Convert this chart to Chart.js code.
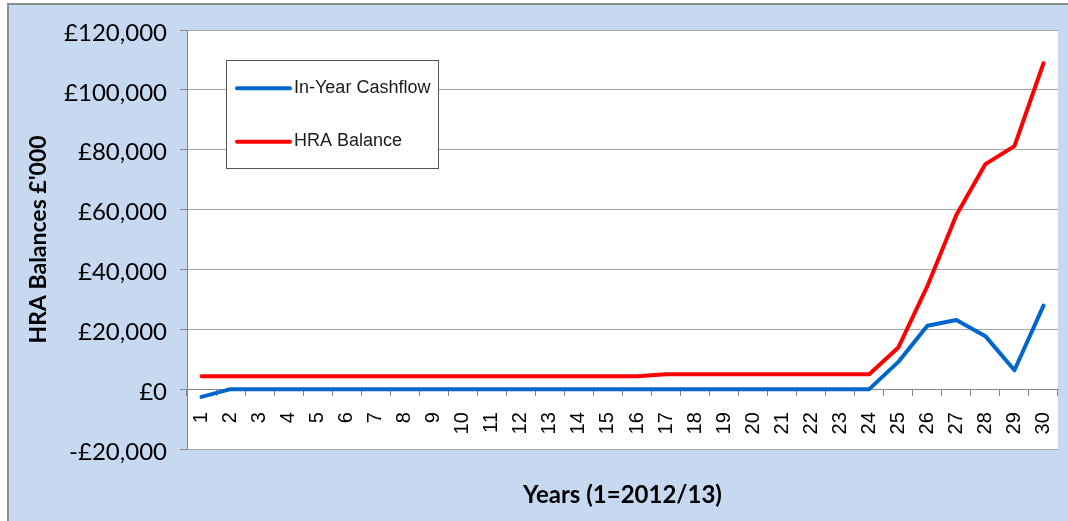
<!DOCTYPE html>
<html><head><meta charset="utf-8">
<script src="https://cdn.jsdelivr.net/npm/chart.js@4.4.0/dist/chart.umd.min.js"></script>
<style>
html,body{margin:0;padding:0;background:#fff;width:1068px;height:521px;overflow:hidden}
#frame{position:absolute;left:7px;top:3px;width:1061px;height:518px;border-top:2px solid #8c8c8c;border-left:2px solid #8c8c8c;background:#C6D9F1;box-sizing:border-box}
#c{position:absolute;left:0;top:0}
</style></head><body>
<div id="frame"></div>
<canvas id="c" width="1068" height="521"></canvas>
<script>
const years = ['1','2','3','4','5','6','7','8','9','10','11','12','13','14','15','16','17','18','19','20','21','22','23','24','25','26','27','28','29','30'];
const inYearCashflow = [-2600, 0, 0, 0, 0, 0, 0, 0, 0, 0, 0, 0, 0, 0, 0, 0, 0, 0, 0, 0, 0, 0, 0, 0, 9100, 21200, 23100, 17700, 6300, 27900];
const hraBalance = [4300, 4300, 4300, 4300, 4300, 4300, 4300, 4300, 4300, 4300, 4300, 4300, 4300, 4300, 4300, 4300, 5000, 5000, 5000, 5000, 5000, 5000, 5000, 5000, 13900, 34400, 58200, 75200, 81200, 108900];
const yTickLabels = ['-£20,000', '£0', '£20,000', '£40,000', '£60,000', '£80,000', '£100,000', '£120,000'];
const seriesNames = ['In-Year Cashflow', 'HRA Balance'];
const xTitle = 'Years (1=2012/13)';
const yTitle = "HRA Balances £'000";

const plotBg = {
  id: 'plotBg',
  beforeDraw(chart) {
    const a = chart.chartArea, ctx = chart.ctx;
    ctx.save();
    ctx.fillStyle = '#ffffff';
    ctx.fillRect(a.left, a.top, a.right - a.left, a.bottom - a.top);
    ctx.restore();
  }
};
const boxLegend = {
  id: 'boxLegend',
  afterDatasetsDraw(chart) {
    const ctx = chart.ctx;
    ctx.save();
    ctx.fillStyle = '#ffffff';
    ctx.fillRect(226, 60, 213, 109);
    ctx.strokeStyle = '#555555';
    ctx.lineWidth = 1;
    ctx.strokeRect(226.5, 60.5, 212, 108);
    const rows = [88.3, 141.7];
    chart.data.datasets.forEach((ds, i) => {
      const y = rows[i];
      ctx.strokeStyle = ds.borderColor;
      ctx.lineWidth = 4;
      ctx.lineCap = 'round';
      ctx.beginPath(); ctx.moveTo(237, y); ctx.lineTo(290, y); ctx.stroke();
      ctx.fillStyle = '#1a1a1a';
      ctx.font = '18px "Liberation Sans", Arial, sans-serif';
      ctx.textAlign = 'left';
      ctx.textBaseline = 'alphabetic';
      ctx.fillText(ds.label, 294, y + 4.6);
    });
    ctx.restore();
  }
};
const xTitlePlugin = {
  id: 'xTitlePlugin',
  afterDraw(chart) {
    const a = chart.chartArea, ctx = chart.ctx;
    ctx.save();
    ctx.fillStyle = '#000';
    ctx.font = 'bold 24px Lato, sans-serif';
    ctx.textAlign = 'center';
    ctx.textBaseline = 'alphabetic';
    ctx.fillText(xTitle, (a.left + a.right) / 2, 503);
    ctx.restore();
  }
};

new Chart(document.getElementById('c'), {
  type: 'line',
  data: {
    labels: years,
    datasets: [
      { label: seriesNames[0], data: inYearCashflow, borderColor: '#0066CC', backgroundColor: '#0066CC', borderWidth: 4, pointRadius: 0, tension: 0, fill: false, borderJoinStyle: 'round', borderCapStyle: 'round' },
      { label: seriesNames[1], data: hraBalance, borderColor: '#FF0000', backgroundColor: '#FF0000', borderWidth: 4, pointRadius: 0, tension: 0, fill: false, borderJoinStyle: 'round', borderCapStyle: 'round' }
    ]
  },
  options: {
    responsive: false,
    animation: false,
    devicePixelRatio: 1,
    layout: { padding: { left: 0, top: 30, right: 10, bottom: 72 } },
    plugins: { legend: { display: false }, tooltip: { enabled: false } },
    scales: {
      x: {
        type: 'category',
        position: { y: 0 },
        offset: true,
        grid: { offset: true, drawOnChartArea: false, drawTicks: true, tickLength: 6, color: '#868686' },
        border: { display: true, color: '#868686', width: 1 },
        ticks: { autoSkip: false, maxRotation: 90, minRotation: 90, padding: 17, color: '#000', font: { family: '"Liberation Sans", Arial, sans-serif', size: 20 } },
        afterFit(s) { s.paddingLeft = 0; s.paddingRight = 0; }
      },
      y: {
        position: 'left',
        min: -20000,
        max: 120000,
        ticks: { stepSize: 20000, callback: (v, i) => yTickLabels[i], color: '#000', font: { family: 'Lato, sans-serif', size: 24 }, padding: 13, labelOffset: 3 },
        grid: { color: '#a6a6a6', tickLength: 7, tickColor: '#868686' },
        border: { display: true, color: '#868686', width: 1 },
        title: { display: true, text: yTitle, color: '#000', font: { family: 'Lato, sans-serif', size: 23, weight: 'bold' }, padding: { top: 25, bottom: 0 } },
        afterFit(s) { s.width = 187; }
      }
    }
  },
  plugins: [plotBg, boxLegend, xTitlePlugin]
});
</script>
</body></html>
